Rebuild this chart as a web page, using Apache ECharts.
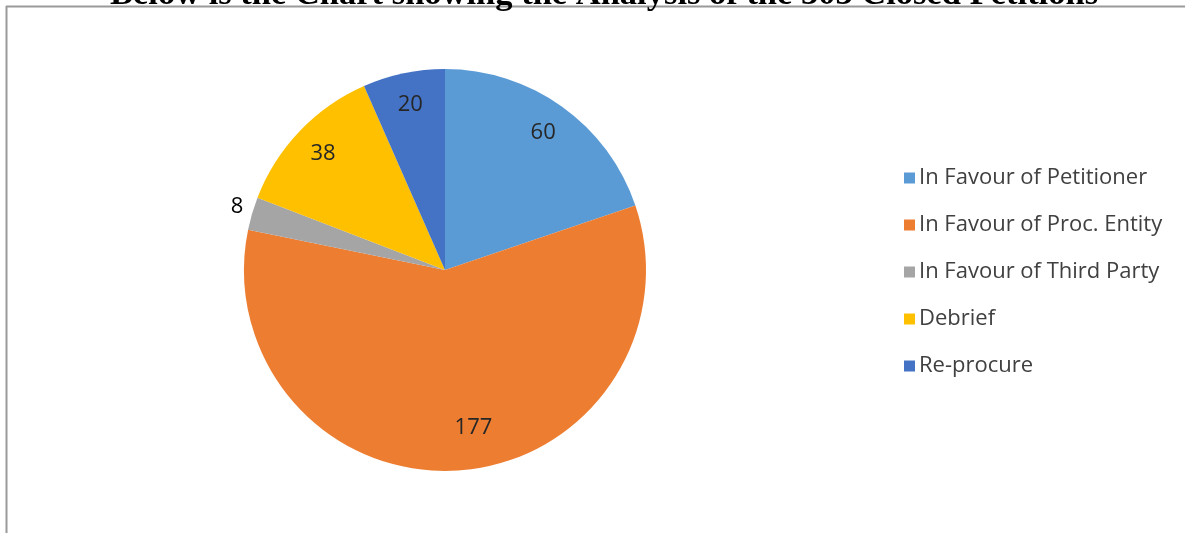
<!DOCTYPE html>
<html>
<head>
<meta charset="utf-8">
<script src="https://cdn.jsdelivr.net/npm/echarts@6/dist/echarts.min.js"></script>
<style>
html,body{margin:0;padding:0;background:#fff;}
#chart{width:1185px;height:533px;}
</style>
</head>
<body>
<div id="chart"></div>
<script>
const titleText = 'Below is the Chart showing the Analysis of the 303 Closed Petitions';
const categories = ['In Favour of Petitioner', 'In Favour of Proc. Entity', 'In Favour of Third Party', 'Debrief', 'Re-procure'];
const values = [60, 177, 8, 38, 20];
const colors = ['#5B9BD5', '#ED7D31', '#A5A5A5', '#FFC000', '#4472C4'];

const chart = echarts.init(document.getElementById('chart'));
const center = [445, 270];
const pieData = categories.map((c, i) => ({ name: c, value: values[i], itemStyle: { color: colors[i] } }));
const labelData = categories.map((c, i) => {
  const d = { name: c, value: values[i] };
  if (values[i] < 10) {
    d.label = { position: 'outside', color: '#000', offset: [2, -5] };
    d.labelLine = { show: false, length: 6, length2: 0 };
  } else if (values[i] > 100) {
    d.label = { offset: [18, -10] };
  }
  return d;
});

chart.setOption({
  animation: false,
  backgroundColor: '#fff',
  title: {
    text: titleText,
    left: 110,
    top: -22,
    padding: 0,
    textStyle: { fontFamily: 'Liberation Serif', fontWeight: 'bold', fontSize: 34.5, color: '#000' }
  },
  graphic: [
    { type: 'line', shape: { x1: 6, y1: 6.5, x2: 1185, y2: 6.5 }, style: { stroke: '#9a9a9a', lineWidth: 2 }, silent: true },
    { type: 'line', shape: { x1: 6.5, y1: 6, x2: 6.5, y2: 533 }, style: { stroke: '#9a9a9a', lineWidth: 2 }, silent: true }
  ],
  legend: {
    orient: 'vertical',
    left: 899,
    top: 162,
    itemWidth: 11,
    itemHeight: 11,
    itemGap: 25,
    icon: 'rect',
    data: categories,
    textStyle: { fontFamily: 'Open Sans', fontSize: 22, color: '#404040', lineHeight: 22, padding: [0, 0, 0, -1] }
  },
  series: [
    {
      type: 'pie',
      center: center,
      radius: 201,
      startAngle: 90,
      clockwise: true,
      label: { show: false },
      labelLine: { show: false },
      itemStyle: { borderColor: '#fff', borderWidth: 0 },
      data: pieData,
      emphasis: { disabled: true }
    },
    {
      type: 'pie',
      center: center,
      radius: [130, 201],
      startAngle: 90,
      clockwise: true,
      silent: true,
      legendHoverLink: false,
      itemStyle: { color: 'rgba(0,0,0,0)' },
      label: { show: true, position: 'inside', formatter: '{c}', fontFamily: 'Open Sans', fontSize: 22, color: '#262626' },
      labelLine: { show: false },
      data: labelData,
      emphasis: { disabled: true }
    }
  ]
});
</script>
</body>
</html>
